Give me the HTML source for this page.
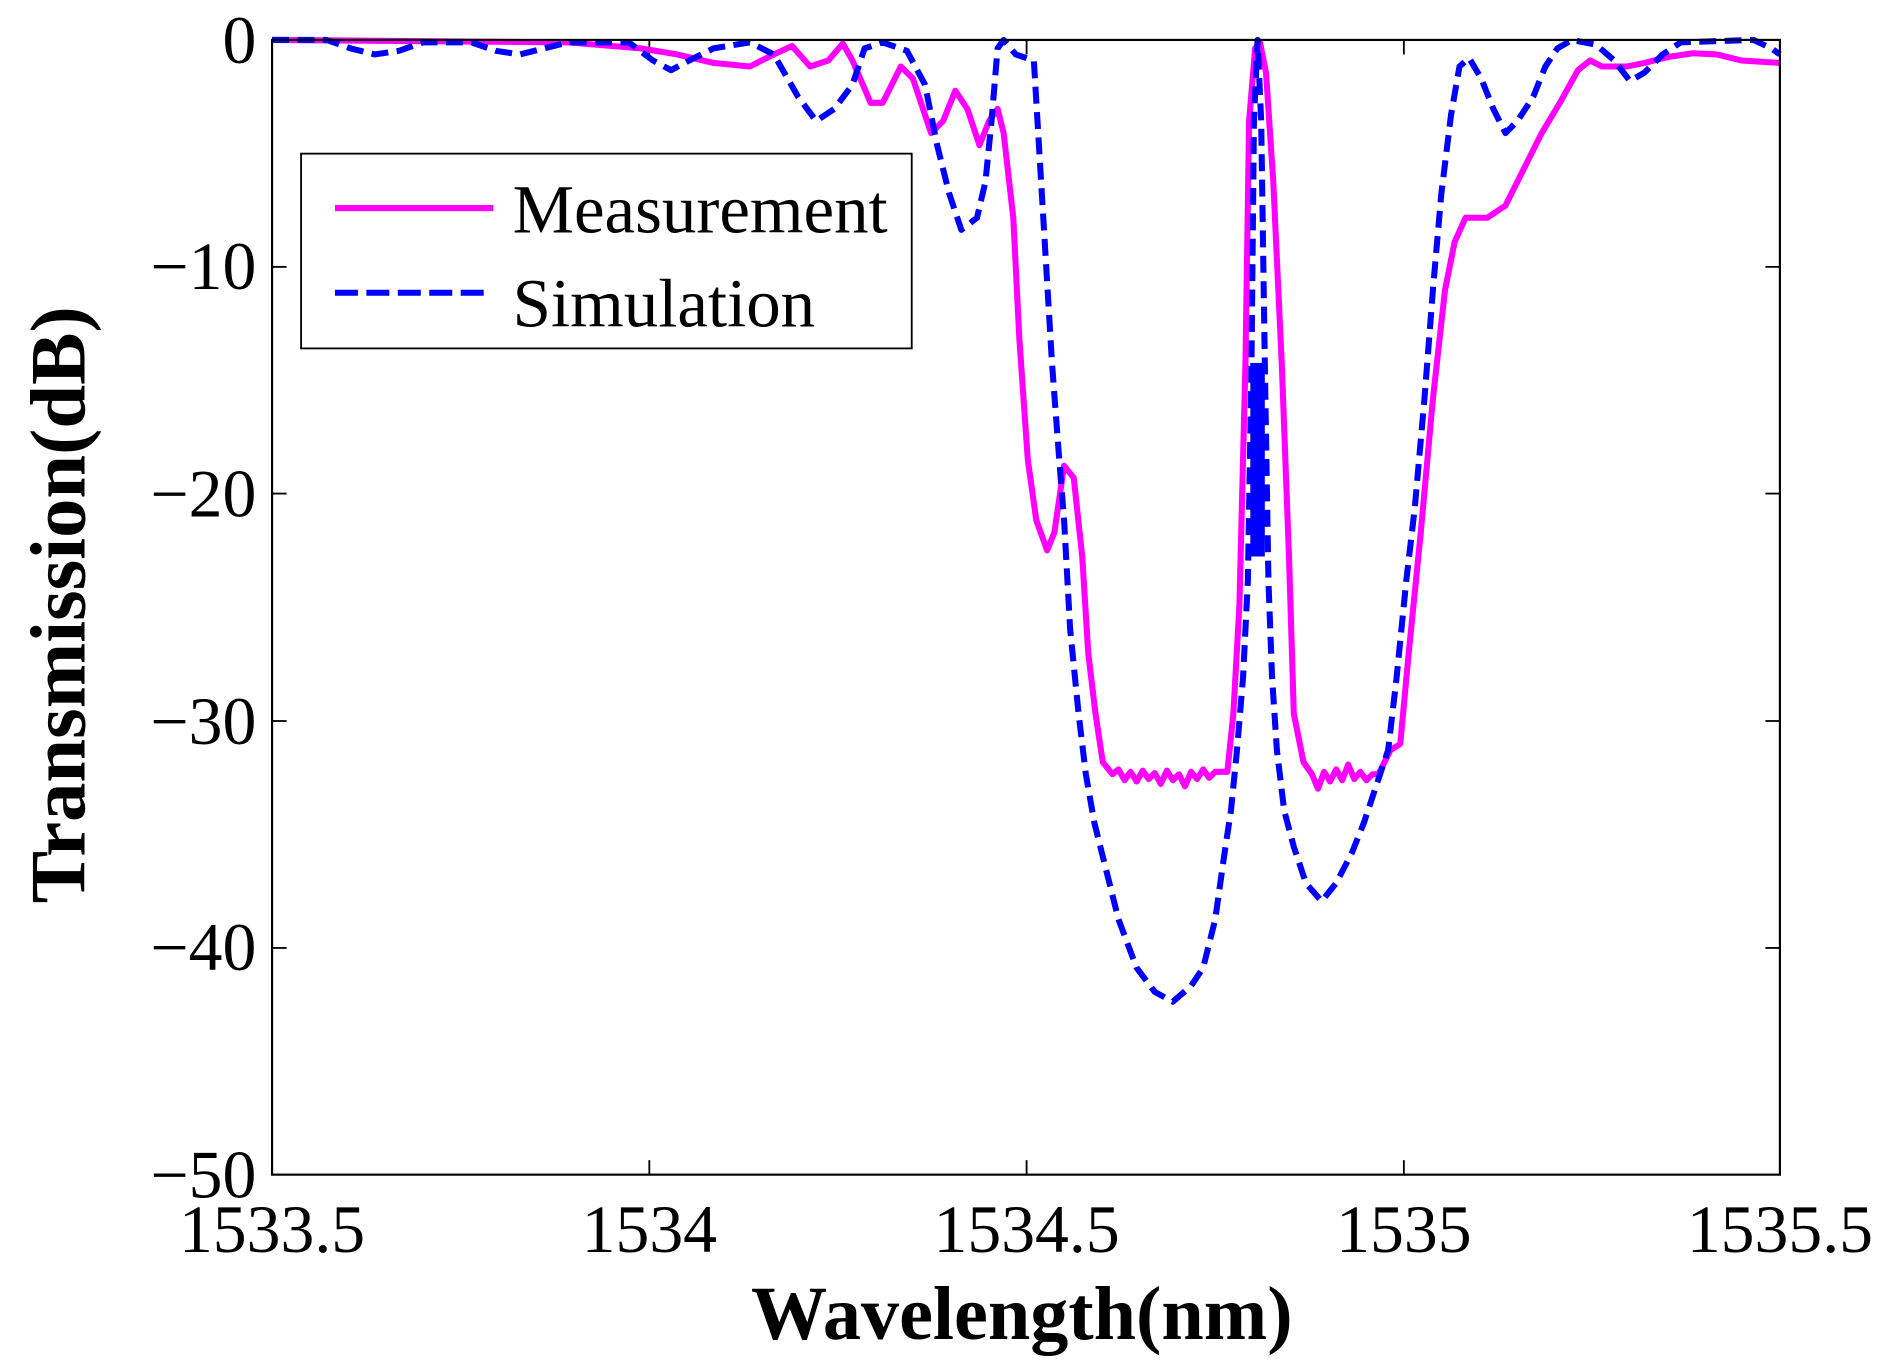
<!DOCTYPE html>
<html><head><style>html,body{margin:0;padding:0;background:#fff}svg{display:block}</style></head>
<body>
<svg width="1896" height="1367" viewBox="0 0 1568 1130" preserveAspectRatio="none" xmlns="http://www.w3.org/2000/svg" font-family="Liberation Serif, serif">
<rect width="1568" height="1130" fill="#fff"/>
<g stroke="#000" stroke-width="1.5">
<line x1="537" y1="971" x2="537" y2="959"/><line x1="849" y1="971" x2="849" y2="959"/><line x1="1161" y1="971" x2="1161" y2="959"/>
<line x1="537" y1="33" x2="537" y2="45"/><line x1="849" y1="33" x2="849" y2="45"/><line x1="1161" y1="33" x2="1161" y2="45"/>
<line x1="225" y1="220.6" x2="237" y2="220.6"/><line x1="225" y1="408" x2="237" y2="408"/><line x1="225" y1="596" x2="237" y2="596"/><line x1="225" y1="783.6" x2="237" y2="783.6"/>
<line x1="1472" y1="220.6" x2="1460" y2="220.6"/><line x1="1472" y1="408" x2="1460" y2="408"/><line x1="1472" y1="596" x2="1460" y2="596"/><line x1="1472" y1="783.6" x2="1460" y2="783.6"/>
</g>
<polyline fill="none" stroke="#ff00ff" stroke-width="5" stroke-linejoin="round" points="225,33 470,35 530,40 560,45 590,52 620,55 640,45 655,38 670,55 685,50 697,36 705,50 720,85 730,85 745,55 755,65 770,110 780,100 790,75 800,90 810,120 818,100 825,90 830,110 838,180 843,280 850,380 857,430 866,455 872,440 880,385 888,395 895,460 900,540 906,590 912,630 920,640 925,636 930,645 935,638 940,646 945,637 950,644 955,639 960,648 965,637 970,645 975,640 980,650 985,638 990,644 995,636 1000,643 1005,638 1015,638 1020,590 1025,500 1030,300 1033,100 1038,40 1042,35 1047,60 1053,150 1060,300 1066,460 1070,590 1078,630 1085,640 1090,652 1095,638 1100,646 1105,636 1110,645 1115,632 1120,644 1125,638 1130,645 1135,640 1140,640 1150,620 1158,615 1165,540 1175,440 1185,330 1195,240 1203,200 1212,180 1230,180 1245,170 1260,140 1275,110 1290,85 1305,58 1315,50 1325,55 1345,55 1360,52 1380,47 1400,44 1420,45 1440,50 1472,52"/>
<polyline fill="none" stroke="#0000ff" stroke-width="5" stroke-dasharray="14,7" stroke-linejoin="round" points="225,33 270,33 290,40 310,45 330,42 350,35 390,35 410,42 430,45 450,40 470,35 520,35 540,50 555,58 570,50 590,40 620,35 640,45 660,80 675,100 690,90 705,70 715,40 730,35 750,42 765,70 775,120 785,160 795,190 808,180 815,150 820,100 825,40 830,33 840,45 855,50 858,100 864,200 870,300 876,380 880,430 885,520 892,590 898,640 905,680 915,720 925,760 940,800 955,820 970,828 985,815 995,800 1005,760 1012,710 1018,670 1023,620 1028,560 1032,480 1035,300 1037,100 1040,33 1043,100 1046,300 1049,480 1052,560 1056,620 1062,670 1070,700 1080,730 1093,745 1105,730 1118,705 1128,680 1138,650 1148,620 1155,560 1163,480 1170,420 1178,330 1185,240 1192,160 1200,95 1207,55 1215,48 1225,65 1235,90 1245,110 1255,100 1268,80 1278,55 1288,40 1300,33 1320,37 1335,50 1348,67 1360,60 1375,45 1390,35 1450,33 1465,40 1472,45"/>
<rect x="1034" y="300" width="12" height="160" fill="#0000ff"/>
<rect x="225" y="33" width="1247" height="938" fill="none" stroke="#000" stroke-width="1.8"/>
<rect x="249" y="127" width="505" height="161" fill="#fff" stroke="#000" stroke-width="1.5"/>
<line x1="277" y1="172" x2="408" y2="172" stroke="#ff00ff" stroke-width="5"/>
<line x1="277" y1="242" x2="403" y2="242" stroke="#0000ff" stroke-width="5" stroke-dasharray="19,7"/>
<g font-size="57" fill="#000">
<text x="424" y="192">Measurement</text>
<text x="424" y="270">Simulation</text>
</g>
<g font-size="56" fill="#000" text-anchor="end">
<text x="212" y="52">0</text>
<text x="212" y="239">−10</text>
<text x="212" y="427">−20</text>
<text x="212" y="615">−30</text>
<text x="212" y="802">−40</text>
<text x="212" y="990">−50</text>
</g>
<g font-size="56" fill="#000" text-anchor="middle">
<text x="225" y="1035">1533.5</text>
<text x="537" y="1035">1534</text>
<text x="849" y="1035">1534.5</text>
<text x="1161" y="1035">1535</text>
<text x="1472" y="1035">1535.5</text>
</g>
<text x="845" y="1107" font-size="63" font-weight="bold" text-anchor="middle">Wavelength(nm)</text>
<text transform="translate(70,500) rotate(-90)" font-size="65" font-weight="bold" text-anchor="middle">Transmission(dB)</text>
</svg>
</body></html>
